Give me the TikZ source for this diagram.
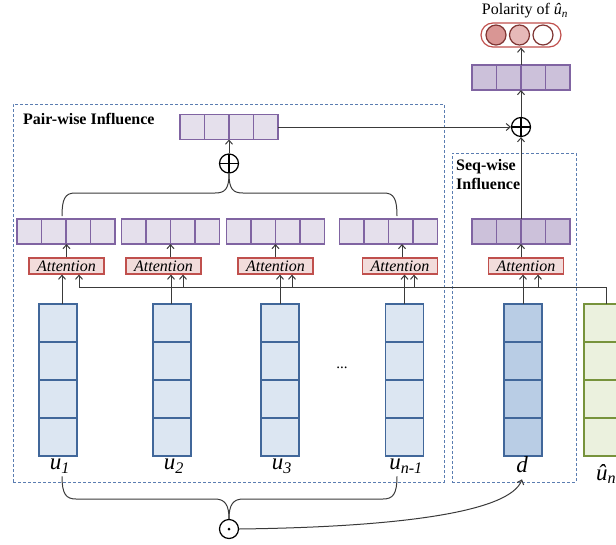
\documentclass[tikz,border=0pt]{standalone}
\usepackage{fontspec}
\setmainfont{Liberation Serif}
\usetikzlibrary{calc,arrows.meta}
\definecolor{purpleB}{HTML}{8064A2}
\definecolor{purpleL}{HTML}{E5E0EC}
\definecolor{purpleM}{HTML}{CCC1DA}
\definecolor{redB}{HTML}{C0504D}
\definecolor{redL}{HTML}{F2DCDB}
\definecolor{blueB}{HTML}{41679A}
\definecolor{blueL}{HTML}{DCE6F2}
\definecolor{blueM}{HTML}{B9CDE5}
\definecolor{greenB}{HTML}{77933C}
\definecolor{greenL}{HTML}{EBF1DE}
\definecolor{dashB}{HTML}{5B7DB1}
\definecolor{lineC}{HTML}{3A3A3A}
\definecolor{darkR}{HTML}{7F3533}
\definecolor{circA}{HTML}{D99694}
\definecolor{circB}{HTML}{E6B9B8}
\begin{document}
\begin{tikzpicture}[x=1pt,y=-1pt,
  conn/.style={draw=lineC, line width=1pt},
  arr/.style={conn, -{Straight Barb[length=4pt,width=7pt]}},
  vec/.style={draw=purpleB, fill=purpleL, line width=1.3pt, minimum width=98pt, minimum height=25pt, inner sep=0pt, outer sep=0pt,
    path picture={\foreach \i in {1,2,3}{\draw[purpleB,line width=1.3pt] ($(path picture bounding box.south west)!\i/4!(path picture bounding box.south east)$) -- ($(path picture bounding box.north west)!\i/4!(path picture bounding box.north east)$);}}},
  colbox/.style={draw=blueB, fill=blueL, line width=1.3pt, minimum width=38pt, minimum height=152pt, inner sep=0pt, outer sep=0pt,
    path picture={\foreach \i in {1,2,3}{\draw[#1,line width=1.3pt] ($(path picture bounding box.south west)!\i/4!(path picture bounding box.north west)$) -- ($(path picture bounding box.south east)!\i/4!(path picture bounding box.north east)$);}}},
  colbox/.default=blueB,
  att/.style={draw=redB, fill=redL, line width=1.2pt, minimum width=75pt, minimum height=16pt, inner sep=0pt, font=\itshape\fontsize{16}{16}\selectfont},
  dashbox/.style={draw=dashB, dashed, dash pattern=on 3pt off 2pt, line width=0.9pt, inner sep=0pt},
  opl/.style={circle, draw=black, line width=1.2pt, minimum size=19pt, inner sep=0pt,
    path picture={\draw[line width=1.2pt] (path picture bounding box.north) -- (path picture bounding box.south) (path picture bounding box.west) -- (path picture bounding box.east);}},
  odt/.style={circle, draw=black, line width=1.2pt, minimum size=19pt, inner sep=0pt,
    path picture={\fill (path picture bounding box.center) circle (1.5pt);}},
  lab/.style={font=\fontsize{23}{26}\selectfont\itshape, inner sep=0pt},
  bold/.style={font=\bfseries\fontsize{16}{19}\selectfont, inner sep=0pt},
  pcirc/.style={circle, draw=darkR, line width=1.2pt, minimum size=20pt, inner sep=0pt}
]
\useasboundingbox (0,0) rectangle (616,544);
\clip (0,0) rectangle (616,544);

% dashed regions
\node[dashbox, minimum width=431pt, minimum height=378pt] (pair) at (228.5,293) {};
\node[dashbox, minimum width=124pt, minimum height=329pt] (seq) at (514,317.5) {};
\node[bold, anchor=west] (pwl) at (23,119) {Pair-wise Influence};
\node[bold, anchor=north west, align=left] (swl) at (456,159) {Seq-wise\\Influence};

% polarity
\node[font=\fontsize{16}{17}\selectfont, inner sep=0pt] (poltxt) at (525,11) {Polarity of \textit{û\textsubscript{n}}};
\node[draw=redB, line width=1.2pt, rounded corners=12pt, minimum width=80pt, minimum height=24pt, inner sep=0pt] (pol) at (521,35) {};
\node[pcirc, fill=circA] (c1) at (496,35) {};
\node[pcirc, fill=circB] (c2) at (519.5,35) {};
\node[pcirc, fill=white] (c3) at (543,35) {};

% output vector and combination
\node[vec, fill=purpleM] (ov) at (521,77.5) {};
\node[opl] (op2) at (521,127) {};
\node[vec] (pv) at (229,127) {};
\node[opl] (op1) at (229,163.5) {};

% vectors row
\node[vec] (v1) at (66,231.5) {};
\node[vec] (v2) at (170.5,231.5) {};
\node[vec] (v3) at (275.5,231.5) {};
\node[vec] (v4) at (388.5,231.5) {};
\node[vec, fill=purpleM] (vs) at (521,231.5) {};

% attention
\node[att] (a1) at (66.5,266) {Attention};
\node[att] (a2) at (163.5,266) {Attention};
\node[att] (a3) at (275.5,266) {Attention};
\node[att] (a4) at (400,266) {Attention};
\node[att] (as) at (526,266) {Attention};

% columns
\node[colbox] (u1) at (58,380) {};
\node[colbox] (u2) at (172,380) {};
\node[colbox] (u3) at (280,380) {};
\node[colbox] (un) at (404.5,380) {};
\node[colbox, fill=blueM] (d) at (523,380) {};
\node[colbox=greenB, draw=greenB, fill=greenL] (g) at (603,380) {};

\node[font=\fontsize{15}{16}\selectfont, inner sep=0pt] (dots) at (342,368) {...};

% labels
\node[lab] (lu1) at (60,466) {u\textsubscript{1}};
\node[lab] (lu2) at (174,466) {u\textsubscript{2}};
\node[lab] (lu3) at (282,466) {u\textsubscript{3}};
\node[lab] (lun) at (406,466) {u\textsubscript{n-1}};
\node[lab] (ld) at (522,465) {d};
\node[lab, anchor=west] (lg) at (596,474) {û\textsubscript{n}};
\node[odt] (od) at (229,529) {};

% top arrows
\draw[arr] (ov.north) -- (ov.north |- pol.south);
\draw[arr] (op2.north) -- (ov.south);
\draw[arr] (pv.east) -- (op2.west);
\draw[arr] (vs.north) -- (op2.south);
\draw[arr] (op1.north) -- (pv.south);

% top brace
\draw[conn] (op1.south) .. controls (229,189) and (225,193) .. (215,193) -- (75,193) .. controls (65,193) and (62,199) .. ([xshift=-4pt,yshift=3pt]v1.north);
\draw[conn] (op1.south) .. controls (229,189) and (233,193) .. (243,193) -- (384,193) .. controls (394,193) and (397,199) .. ([xshift=8.5pt,yshift=3pt]v4.north);

% attention -> vectors
\draw[arr] (a1.north) -- (a1.north |- v1.south);
\draw[arr] (v2.south |- a2.north) -- (v2.south);
\draw[arr] (v3.south |- a3.north) -- (v3.south);
\draw[arr] ([xshift=2pt]a4.north) -- ([xshift=2pt]a4.north |- v4.south);
\draw[arr] (vs.south |- as.north) -- (vs.south);

% columns -> attention
\draw[arr] ([xshift=4pt]u1.north) -- ([xshift=4pt]u1.north |- a1.south);
\draw[arr] ([xshift=-1pt]u2.north) -- ([xshift=-1pt]u2.north |- a2.south);
\draw[arr] (u3.north) -- (u3.north |- a3.south);
\draw[arr] (un.north) -- (un.north |- a4.south);
\draw[arr] (d.north) -- (d.north |- as.south);

% target line
\coordinate (b1) at (79,287);
\coordinate (b2) at (183,287);
\coordinate (b3) at (292,287);
\coordinate (b4) at (414,287);
\coordinate (b5) at (538,287);
\draw[conn] ([xshift=3pt]g.north) -- ([xshift=3pt]g.north |- b1) -- (b1);
\draw[arr] (b1) -- (b1 |- a1.south);
\draw[arr] (b2) -- (b2 |- a2.south);
\draw[arr] (b3) -- (b3 |- a3.south);
\draw[arr] (b4) -- (b4 |- a4.south);
\draw[arr] (b5) -- (b5 |- as.south);

% bottom brace
\draw[conn] ([xshift=2pt,yshift=-3pt]lu1.south) .. controls (62,494) and (66,499) .. (76,499) -- (215,499) .. controls (225,499) and (229,505) .. (od.north);
\draw[conn] ([xshift=-9pt,yshift=-3pt]lun.south) .. controls (397,494) and (393,499) .. (383,499) -- (243,499) .. controls (233,499) and (229,505) .. (od.north);
\draw[arr] (od.east) .. controls (400,527) and (510,512) .. ([yshift=-6pt]ld.south);
\end{tikzpicture}
\end{document}
